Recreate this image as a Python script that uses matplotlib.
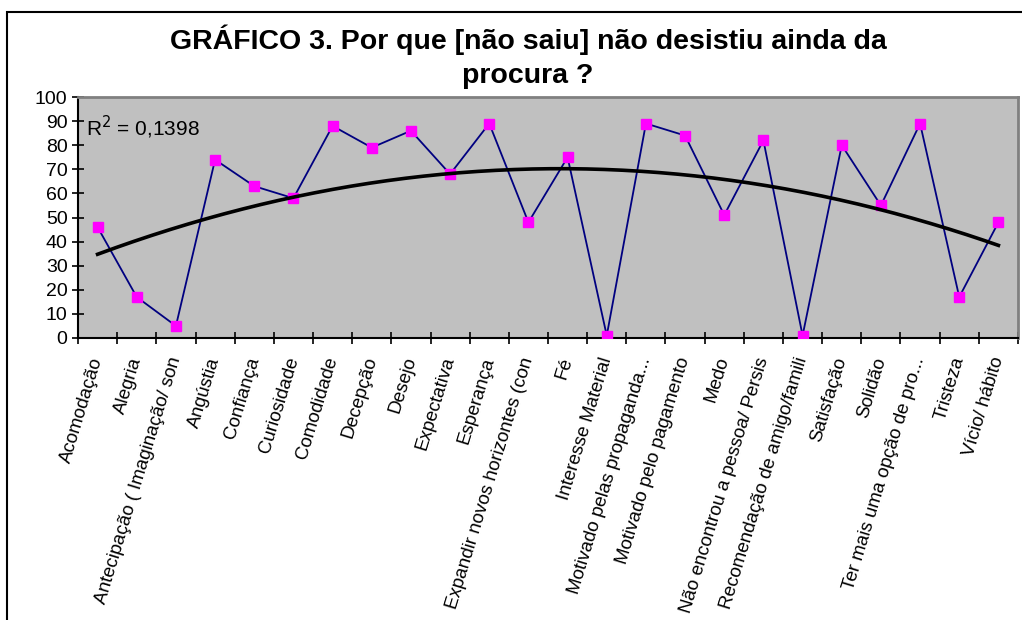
import numpy as np
import matplotlib
matplotlib.use("Agg")
import matplotlib.pyplot as plt
from matplotlib.patches import Rectangle

plt.rcParams["font.family"] = ["Liberation Sans", "DejaVu Sans"]

CATEGORIES = [
    "Acomodação", "Alegria", "Antecipação ( Imaginação/ son", "Angústia",
    "Confiança", "Curiosidade", "Comodidade", "Decepção", "Desejo",
    "Expectativa", "Esperança", "Expandir novos horizontes (con", "Fé",
    "Interesse Material", "Motivado pelas propaganda...", "Motivado pelo pagamento",
    "Medo", "Não encontrou a pessoa/ Persis", "Recomendação de amigo/famili",
    "Satisfação", "Solidão", "Ter mais uma opção de pro...", "Tristeza",
    "Vício/ hábito",
]
VALUES = [46, 17, 5, 74, 63, 58, 88, 79, 86, 68, 89, 48, 75, 1,
          89, 84, 51, 82, 1, 80, 55, 89, 17, 48]
Y_TICKS = list(range(0, 101, 10))


def main():
    W, H = 1022, 620
    fig = plt.figure(figsize=(W / 100, H / 100), dpi=100)

    # outer chart frame (left/top visible, rest runs off the image)
    fig.patches.append(Rectangle((7 / W, -0.1), 1.2, (H - 12) / H + 0.1,
                                 transform=fig.transFigure, fill=False,
                                 edgecolor="black", linewidth=1.5))

    ax = fig.add_axes([78 / W, (H - 338) / H, (1018 - 78) / W, (338 - 97) / H])
    ax.set_facecolor("#c0c0c0")

    x = np.arange(1, len(VALUES) + 1)
    y = np.array(VALUES, dtype=float)

    ax.plot(x, y, color="#000080", linewidth=1.3, marker="s", markersize=7.5,
            markerfacecolor="#ff00ff", markeredgecolor="#ff00ff", zorder=3)

    # polynomial (order 2) trendline
    coef = np.polyfit(x, y, 2)
    xs = np.linspace(1, len(VALUES), 200)
    ax.plot(xs, np.polyval(coef, xs), color="black", linewidth=2.6, zorder=4)

    ax.text(0.008, 0.875, "R$^2$ = 0,1398", transform=ax.transAxes,
            fontsize=15, va="center", ha="left")

    ax.set_xlim(0.5, len(VALUES) + 0.5)
    ax.set_ylim(0, 100)
    ax.set_yticks(Y_TICKS)
    ax.tick_params(axis="y", direction="inout", length=9, width=1.2,
                   labelsize=14, pad=3)

    ax.set_xticks(np.arange(0.5, len(VALUES) + 1, 1))
    ax.set_xticklabels([])
    ax.tick_params(axis="x", direction="inout", length=8, width=1.2)
    for xi, lab in zip(x, CATEGORIES):
        ax.annotate(lab, xy=(xi, 0), xycoords=("data", "axes fraction"),
                    xytext=(0, -14), textcoords="offset points",
                    rotation=73, rotation_mode="anchor", ha="right",
                    va="center", fontsize=13.5, annotation_clip=False)

    for side in ("left", "bottom"):
        ax.spines[side].set_color("black")
        ax.spines[side].set_linewidth(1.5)
    for side in ("top", "right"):
        ax.spines[side].set_color("#808080")
        ax.spines[side].set_linewidth(2)

    fig.text(528 / W, 1 - 40 / H, "GRÁFICO 3. Por que [não saiu] não desistiu ainda da",
             fontsize=20.5, fontweight="bold", ha="center", va="center")
    fig.text(528 / W, 1 - 76 / H, "procura ?",
             fontsize=20.5, fontweight="bold", ha="center", va="center")

    fig.savefig("out.png", dpi=100)


if __name__ == "__main__":
    main()
